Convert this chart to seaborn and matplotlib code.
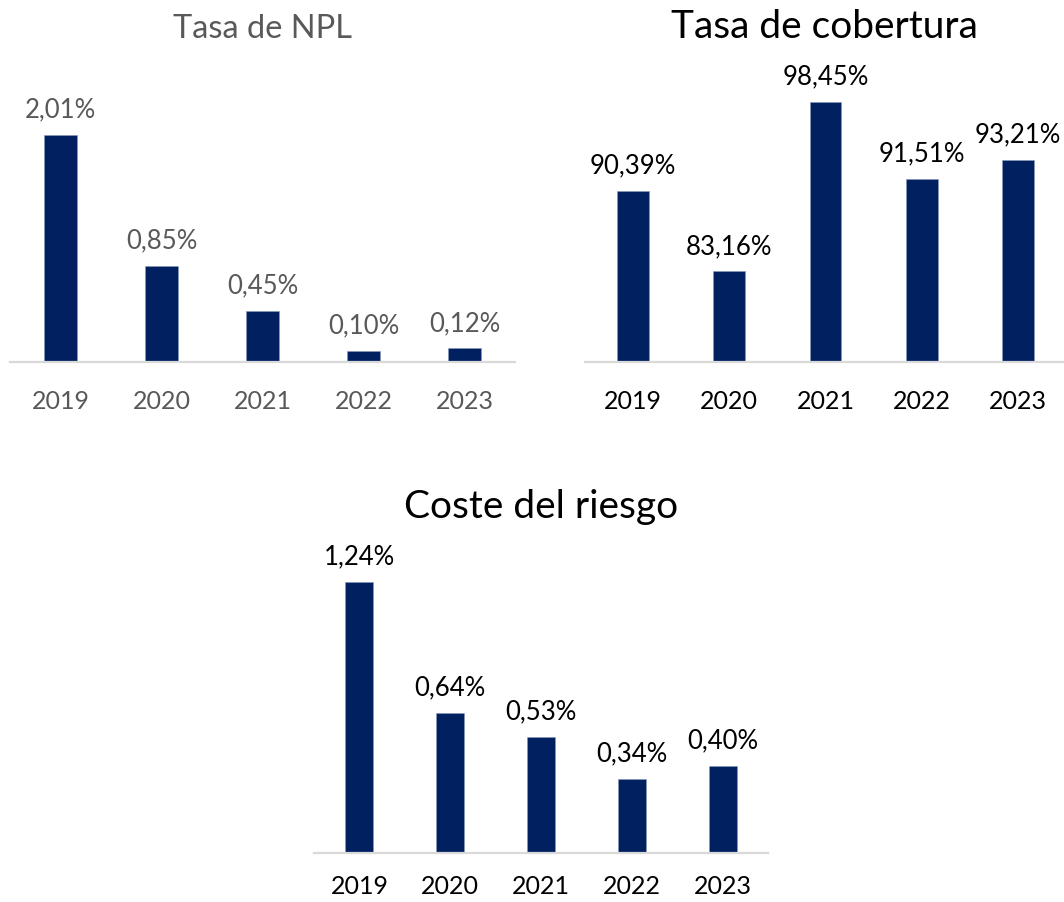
import pandas as pd
import seaborn as sns
import matplotlib.pyplot as plt

# Data
years = ["2019", "2020", "2021", "2022", "2023"]
npl_rate = [2.01, 0.85, 0.45, 0.10, 0.12]
coverage_rate = [90.39, 83.16, 98.45, 91.51, 93.21]
risk_cost = [1.24, 0.64, 0.53, 0.34, 0.40]

navy = "#002060"
grey_text = "#595959"

sns.set_theme(style="white")
plt.rcParams["font.family"] = ["Lato", "DejaVu Sans"]

W, H = 1064, 902
fig = plt.figure(figsize=(W / 100, H / 100), dpi=100)


def px_axes(left, right, top, bottom):
    return fig.add_axes([left / W, 1 - bottom / H, (right - left) / W, (bottom - top) / H])


def draw_panel(ax, values, title, ylim, width, text_color, title_size, xmax=4.5, tick_pad=20):
    df = pd.DataFrame({"Year": years, "Value": values})
    sns.barplot(data=df, x="Year", y="Value", color=navy, width=width,
                saturation=1, ax=ax, edgecolor="#8a9bbd", linewidth=0.4)
    ax.set_xlim(-0.5, xmax)
    ax.set_ylim(*ylim)
    for s in ["top", "left", "right"]:
        ax.spines[s].set_visible(False)
    ax.spines["bottom"].set_color("#D9D9D9")
    ax.spines["bottom"].set_linewidth(1.6)
    ax.set_yticks([])
    ax.set_xlabel("")
    ax.set_ylabel("")
    ax.tick_params(axis="x", length=0, pad=tick_pad, labelsize=18, labelcolor=text_color)
    labels = [f"{v:.2f}".replace(".", ",") + "%" for v in values]
    ax.bar_label(ax.containers[0], labels=labels, padding=9, fontsize=18.5, color=text_color)
    ax.set_title(title, fontsize=title_size, color=text_color, pad=30)


ax1 = px_axes(10, 515, 80, 362)
draw_panel(ax1, npl_rate, "Tasa de NPL", (0, 2.5), 0.33, grey_text, 23.5)

ax2 = px_axes(585, 1064, 80, 362)
draw_panel(ax2, coverage_rate, "Tasa de cobertura", (75, 100.4), 0.33, "black", 28, xmax=4.48)

ax3 = px_axes(314, 768, 560, 853)
draw_panel(ax3, risk_cost, "Coste del riesgo", (0, 1.34), 0.31, "black", 28, tick_pad=16)

fig.savefig("out.png", dpi=100)
